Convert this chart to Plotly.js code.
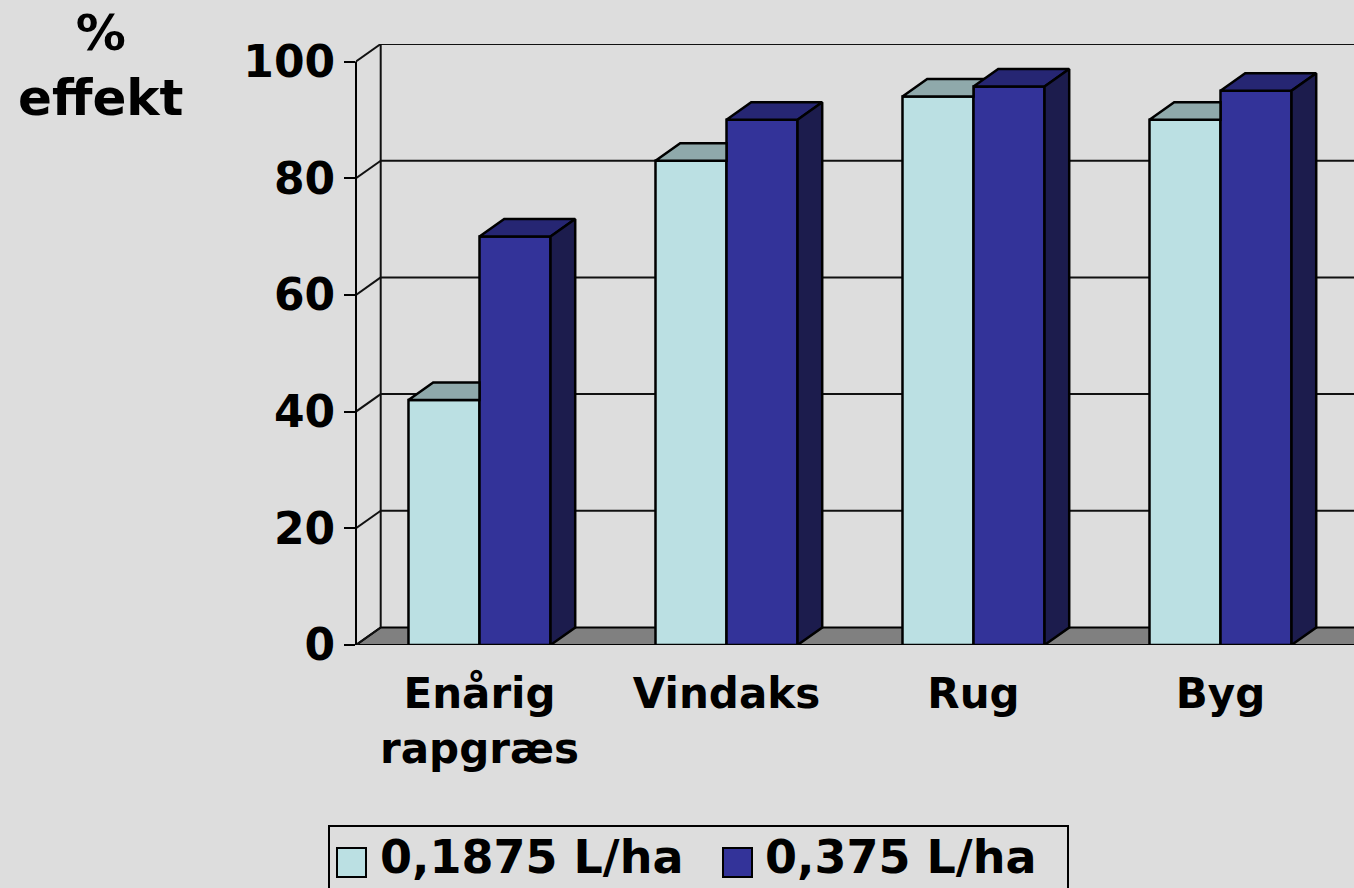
<!DOCTYPE html>
<html>
<head>
<meta charset="utf-8">
<script src="https://cdn.plot.ly/plotly-3.0.1.min.js"></script>
<style>
  html, body { margin: 0; padding: 0; background: #DDDDDD; }
  #chart { width: 1354px; height: 888px; }
</style>
</head>
<body>
<div id="chart"></div>
<script>
// ---- data ----
const categories = ["Enårig rapgræs", "Vindaks", "Rug", "Byg"];
const tickLabels = ["Enårig<br>rapgræs", "Vindaks", "Rug", "Byg"];
const seriesNames = ["0,1875 L/ha", "0,375 L/ha"];
const lowDose = [42, 83, 94, 90];
const highDose = [70, 90, 95.7, 95];
const yTicks = [0, 20, 40, 60, 80, 100];
const yTitle = "%<br>effekt";

// ---- styling / geometry ----
const W = 1354, H = 888;
const M = { l: 356, r: 0, t: 44, b: 243 };
const plotW = W - M.l - M.r, plotH = H - M.t - M.b;
const catPx = 247;                       // pixels per category
const xMin = -0.5, xMax = xMin + plotW / catPx;
const DX = 0.1, DY = 3;                  // 3-D depth offset (data units)
const yMax = 100 + DY;
const bargap = 0.425;
const bw = (1 - bargap) / 2;             // single bar width
const FONT = "DejaVu Sans";
const colLight = "#BBE0E3", colLightTop = "#8FA9AB";
const colDark = "#333399", colDarkTop = "#262673", colDarkSide = "#1C1C4D";
const gridCol = "#111111";
const edgeW = 2.5;

const px2paperX = p => (p - M.l) / plotW;
const px2paperY = p => (H - M.b - p) / plotH;

const idx = categories.map((_, i) => i);

// ---- traces ----
const traces = [];
traces.push({
  type: "bar", x: idx, y: lowDose, name: seriesNames[0], showlegend: false,
  marker: { color: colLight, line: { color: "#000", width: edgeW } }, hoverinfo: "skip"
});
traces.push({
  type: "bar", x: idx, y: highDose, name: seriesNames[1], showlegend: false,
  marker: { color: colDark, line: { color: "#000", width: edgeW } }, hoverinfo: "skip"
});

// top faces of the light bars (only the part not hidden by the dark bar)
const ltX = [], ltY = [];
idx.forEach(i => {
  const x0 = i - bw, x1 = i, v1 = lowDose[i], v2 = highDose[i];
  let pts;
  if (v2 >= v1 + DY) {
    pts = [[x0, v1], [x0 + DX, v1 + DY], [x1, v1 + DY], [x1, v1]];
  } else {
    const xr = x1 + DX * (v2 - v1) / DY;
    pts = [[x0, v1], [x0 + DX, v1 + DY], [x1 + DX, v1 + DY], [xr, v2], [x1, v2], [x1, v1]];
  }
  pts.forEach(p => { ltX.push(p[0]); ltY.push(p[1]); });
  ltX.push(pts[0][0]); ltY.push(pts[0][1]);
  ltX.push(null); ltY.push(null);
});
traces.push({
  type: "scatter", mode: "lines", x: ltX, y: ltY, fill: "toself", fillcolor: colLightTop,
  line: { color: "#000", width: edgeW }, showlegend: false, hoverinfo: "skip"
});

// top and side faces of the dark bars
const dtX = [], dtY = [], dsX = [], dsY = [];
idx.forEach(i => {
  const x0 = i, x1 = i + bw, v = highDose[i];
  [[x0, v], [x0 + DX, v + DY], [x1 + DX, v + DY], [x1, v], [x0, v]].forEach(p => { dtX.push(p[0]); dtY.push(p[1]); });
  dtX.push(null); dtY.push(null);
  [[x1, 0], [x1, v], [x1 + DX, v + DY], [x1 + DX, DY], [x1, 0]].forEach(p => { dsX.push(p[0]); dsY.push(p[1]); });
  dsX.push(null); dsY.push(null);
});
traces.push({
  type: "scatter", mode: "lines", x: dtX, y: dtY, fill: "toself", fillcolor: colDarkTop,
  line: { color: "#000", width: edgeW }, showlegend: false, hoverinfo: "skip"
});
traces.push({
  type: "scatter", mode: "lines", x: dsX, y: dsY, fill: "toself", fillcolor: colDarkSide,
  line: { color: "#000", width: edgeW }, showlegend: false, hoverinfo: "skip"
});

// ---- shapes: floor, walls, gridlines ----
const shapes = [];
shapes.push({
  type: "path", layer: "below", xref: "x", yref: "y",
  path: `M${xMin},0 L${xMin + DX},${DY} L${xMax + 1},${DY} L${xMax + 1 - DX},0 Z`,
  fillcolor: "#808080", line: { color: "#000", width: 2 }
});
// left wall back edge
shapes.push({ type: "line", layer: "below", xref: "x", yref: "y",
  x0: xMin + DX, x1: xMin + DX, y0: DY, y1: 100 + DY, line: { color: gridCol, width: 2 } });
yTicks.forEach(v => {
  // diagonal on the left wall
  shapes.push({ type: "line", layer: "below", xref: "x", yref: "y",
    x0: xMin, x1: xMin + DX, y0: v, y1: v + DY, line: { color: gridCol, width: 2 } });
  if (v > 0) {
    shapes.push({ type: "line", layer: "below", xref: "x", yref: "y",
      x0: xMin + DX, x1: xMax + 1, y0: v + DY, y1: v + DY, line: { color: gridCol, width: 2 } });
  }
});
// front value axis line
shapes.push({ type: "line", layer: "above", xref: "paper", yref: "y",
  x0: 0, x1: 0, y0: 0, y1: 100, line: { color: "#000", width: 2 } });

// ---- custom legend ----
const legFont = { family: FONT, size: 46, color: "#000", weight: 700 };
shapes.push({ type: "rect", xref: "paper", yref: "paper", layer: "above",
  x0: px2paperX(329), x1: px2paperX(1068), y0: px2paperY(826), y1: px2paperY(905),
  line: { color: "#000", width: 2 }, fillcolor: "rgba(0,0,0,0)" });
const legItems = [
  { sq: 337, tx: 378, color: colLight, name: seriesNames[0] },
  { sq: 723, tx: 763, color: colDark, name: seriesNames[1] }
];
const annotations = [];
legItems.forEach(it => {
  shapes.push({ type: "rect", xref: "paper", yref: "paper", layer: "above",
    x0: px2paperX(it.sq), x1: px2paperX(it.sq + 29), y0: px2paperY(848), y1: px2paperY(877),
    fillcolor: it.color, line: { color: "#000", width: 2 } });
  annotations.push({ xref: "paper", yref: "paper", x: px2paperX(it.tx), y: px2paperY(857),
    xanchor: "left", yanchor: "middle", showarrow: false, text: it.name, font: legFont });
});
// axis title
annotations.push({ xref: "paper", yref: "paper", x: px2paperX(100), y: px2paperY(2),
  xanchor: "center", yanchor: "top", showarrow: false, text: yTitle,
  font: { family: FONT, size: 50, color: "#000", weight: 700 } });

const tickFont = { family: FONT, size: 42, color: "#000", weight: 700 };
const layout = {
  width: W, height: H,
  margin: M,
  paper_bgcolor: "#DDDDDD", plot_bgcolor: "#DDDDDD",
  barmode: "group", bargap: bargap, bargroupgap: 0,
  showlegend: false,
  xaxis: {
    type: "linear", range: [xMin, xMax], tickvals: idx, ticktext: tickLabels,
    ticks: "", showgrid: false, zeroline: false, showline: false,
    tickfont: tickFont, fixedrange: true, ticklabelstandoff: 20
  },
  xaxis2: {
    type: "linear", overlaying: "x", anchor: "y", side: "bottom", range: [xMin, xMax],
    tickvals: idx.concat([idx.length]).map(i => i - 0.5),
    ticks: "outside", ticklen: 11, tickwidth: 2, tickcolor: "#000",
    showticklabels: false, showgrid: false, zeroline: false, showline: false, fixedrange: true
  },
  yaxis: {
    range: [0, yMax], tickvals: yTicks, ticktext: yTicks.map(String),
    ticks: "outside", ticklen: 11, tickwidth: 2, tickcolor: "#000",
    showgrid: false, zeroline: false, showline: false,
    tickfont: { family: FONT, size: 44, color: "#000", weight: 700 }, fixedrange: true
  },
  shapes: shapes,
  annotations: annotations
};

Plotly.newPlot("chart", traces, layout, { displayModeBar: false, staticPlot: true });
</script>
</body>
</html>
